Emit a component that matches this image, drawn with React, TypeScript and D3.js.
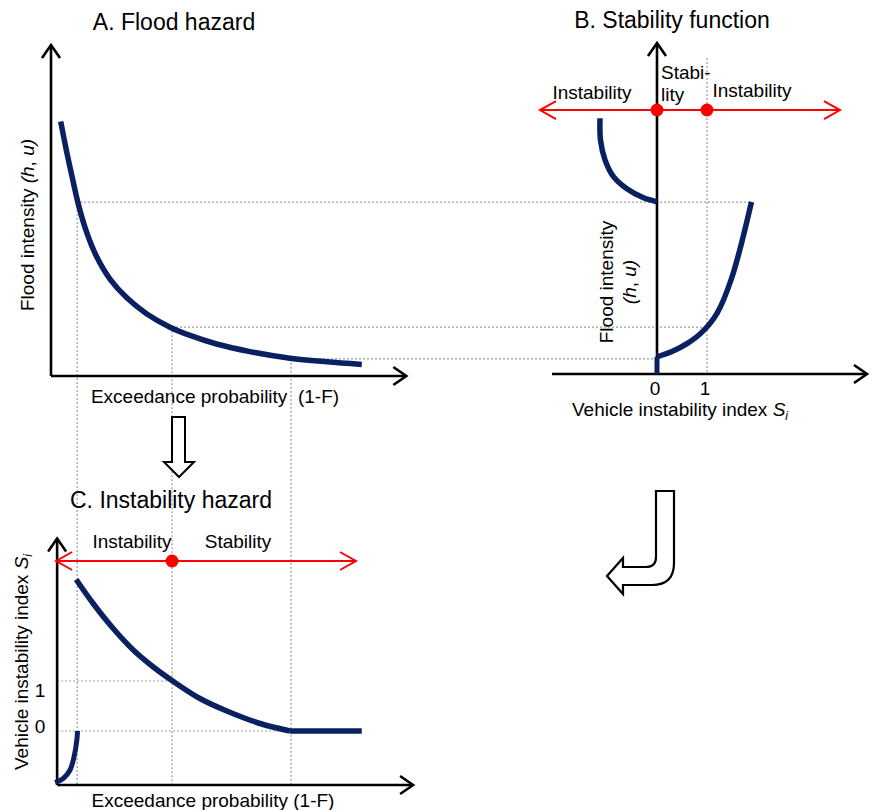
import React from 'react'
import * as d3 from 'd3'

// A. flood hazard curve (exceedance probability -> flood intensity)
const hazardProb = [0.285, 0.46, 0.66, 0.8, 1.05, 1.34, 1.74, 2.23, 2.82, 3.5, 4.09, 4.87, 5.85, 7.03, 8.11, 9.14]
const hazardIntensity = [7.71, 6.8, 5.85, 5.22, 4.35, 3.62, 2.93, 2.37, 1.88, 1.48, 1.23, 0.97, 0.74, 0.54, 0.43, 0.35]

// B. stability function (instability index S vs flood intensity)
const upperS = [-1.14, -1.13, -1.04, -0.87, -0.61, -0.27, 0]
const upperIntensity = [7.81, 7.15, 6.55, 6.04, 5.68, 5.4, 5.28]
const lowerS = [0, 0.3, 0.6, 0.9, 1.2, 1.5, 1.89]
const lowerIntensity = [0.58, 0.74, 0.98, 1.33, 1.9, 3.0, 5.28]

// C. instability hazard
const instabProb = [0.74, 1.24, 1.83, 2.42, 3.01, 3.6, 4.38, 5.17, 6.15, 7.03]
const instabS = [3.03, 2.55, 2.05, 1.62, 1.28, 0.99, 0.65, 0.4, 0.15, 0]
const flatProb = [7.03, 9.14]
const flatS = [0, 0]
const lowProb = [0.12, 0.36, 0.56, 0.68, 0.76, 0.78]
const lowS = [-1.03, -0.95, -0.78, -0.51, -0.18, 0]

// reference levels linking the panels
const refProb = [0.74, 3.56, 7.06]
const refIntensity = [5.27, 1.48, 0.52]
const refS = [1.89, 1, 0]
const sTicks = [0, 1]

const NAVY = '#0b2060'
const RED = '#ff0000'
const GRID = '#9a9a9a'
const FONT = '"Liberation Sans", Arial, sans-serif'

const xP = d3.scaleLinear().domain([0, 10]).range([51, 391])
const yI = d3.scaleLinear().domain([0, 10]).range([376, 46])
const xS = d3.scaleLinear().domain([0, 1]).range([657, 707])
const yS = d3.scaleLinear().domain([0, 1]).range([731, 681])

const zip = (a: number[], b: number[]) => a.map((v, i) => [v, b[i]] as [number, number])

// open chevron arrow head, dir in degrees (0 = pointing right)
const chevron = (x: number, y: number, dir: number, len: number, half: number) => {
  const a = (dir * Math.PI) / 180
  const bx = x - len * Math.cos(a), by = y - len * Math.sin(a)
  const px = -Math.sin(a) * half, py = Math.cos(a) * half
  return `M${bx + px},${by + py}L${x},${y}L${bx - px},${by - py}`
}

const Axis = ({ x1, y1, x2, y2, dir }: any) => (
  <g stroke="black" strokeWidth={2.6} fill="none">
    <line x1={x1} y1={y1} x2={x2} y2={y2} />
    <path d={chevron(x2, y2, dir, 13, 9)} strokeLinejoin="miter" />
  </g>
)

const RedLine = ({ x1, x2, y, dots }: any) => (
  <g>
    <g stroke={RED} strokeWidth={2} fill="none">
      <line x1={x1} y1={y} x2={x2} y2={y} />
      <path d={chevron(x1, y, 180, 16, 9)} />
      <path d={chevron(x2, y, 0, 16, 9)} />
    </g>
    {dots.map((d: number, i: number) => <circle key={i} cx={d} cy={y} r={6.5} fill={RED} />)}
  </g>
)

const Dotted = (p: any) => <line {...p} stroke={GRID} strokeWidth={1.2} strokeDasharray="2,2" />

const App = () => {
  const lineA = d3.line<[number, number]>().x(d => xP(d[0])).y(d => yI(d[1])).curve(d3.curveCatmullRom)
  const lineB = d3.line<[number, number]>().x(d => xS(d[0])).y(d => yI(d[1])).curve(d3.curveCatmullRom)
  const lineC = d3.line<[number, number]>().x(d => xP(d[0])).y(d => yS(d[1])).curve(d3.curveCatmullRom)
  const lineFlat = d3.line<[number, number]>().x(d => xP(d[0])).y(d => yS(d[1]))

  const cAxisX = xP(0.18)
  const cBottom = yS(-1.08)
  const bAxisY = yI(0.06)

  return (
    <svg width={873} height={810} style={{ position: 'absolute', left: 0, top: 0 }} fontFamily={FONT}>
      <rect width={873} height={810} fill="white" />

      {/* dotted guide lines */}
      {refProb.map((p, i) => (
        <Dotted key={'v' + i} x1={xP(p) + (i === 0 ? 1 : 0)} x2={xP(p) + (i === 0 ? 1 : 0)} y1={yI(refIntensity[i]) + 4} y2={cBottom} />
      ))}
      {refIntensity.map((h, i) => (
        <Dotted key={'h' + i} x1={xP(refProb[i]) + 4} x2={xS(refS[i])} y1={yI(h)} y2={yI(h)} />
      ))}
      <Dotted x1={xS(1)} x2={xS(1)} y1={58} y2={bAxisY} />
      <Dotted x1={cAxisX} x2={xP(refProb[1])} y1={yS(1)} y2={yS(1)} />
      <Dotted x1={cAxisX} x2={xP(refProb[2])} y1={yS(0)} y2={yS(0)} />

      {/* A. Flood hazard */}
      <text x={174} y={30} fontSize={23} textAnchor="middle">A. Flood hazard</text>
      <Axis x1={xP(0)} y1={yI(0)} x2={xP(0)} y2={yI(10.03)} dir={-90} />
      <Axis x1={xP(0)} y1={yI(0)} x2={xP(10.45)} y2={yI(0)} dir={0} />
      <path d={lineA(zip(hazardProb, hazardIntensity)) || ''} fill="none" stroke={NAVY} strokeWidth={5.5} />
      <text x={215} y={403} fontSize={19} textAnchor="middle" xmlSpace="preserve">Exceedance probability  (1-F)</text>
      <text transform={`translate(34,225) rotate(-90)`} fontSize={19} textAnchor="middle">
        Flood intensity <tspan fontStyle="italic">(h</tspan>, <tspan fontStyle="italic">u)</tspan>
      </text>

      {/* B. Stability function */}
      <text x={672} y={28} fontSize={23} textAnchor="middle">B. Stability function</text>
      <Axis x1={xS(-2.1)} y1={bAxisY} x2={xS(4.2)} y2={bAxisY} dir={0} />
      <Axis x1={xS(0)} y1={bAxisY} x2={xS(0)} y2={yI(10.09)} dir={-90} />
      <line x1={xS(0)} x2={xS(0)} y1={bAxisY} y2={yI(lowerIntensity[0])} stroke={NAVY} strokeWidth={5} />
      <path d={lineB(zip(upperS, upperIntensity)) || ''} fill="none" stroke={NAVY} strokeWidth={5.5} />
      <path d={lineB(zip(lowerS, lowerIntensity)) || ''} fill="none" stroke={NAVY} strokeWidth={5.5} />
      <RedLine x1={xS(-2.34)} x2={xS(3.66)} y={yI(8.06)} dots={sTicks.map(s => xS(s))} />
      <text x={592} y={99} fontSize={19} textAnchor="middle">Instability</text>
      <text x={752} y={97} fontSize={19} textAnchor="middle">Instability</text>
      <text x={661} y={79} fontSize={19}>Stabi-</text>
      <text x={661} y={101} fontSize={19}>lity</text>
      {sTicks.map(t => (
        <text key={t} x={xS(t) - 2} y={395} fontSize={19} textAnchor="middle">{t}</text>
      ))}
      <text x={680} y={416} fontSize={19} textAnchor="middle">
        Vehicle instability index <tspan fontStyle="italic">S</tspan><tspan fontStyle="italic" fontSize={12} dy={4}>i</tspan>
      </text>
      <text transform={`translate(613,282) rotate(-90)`} fontSize={19} textAnchor="middle">Flood intensity</text>
      <text transform={`translate(636,282) rotate(-90)`} fontSize={19} textAnchor="middle">
        <tspan fontStyle="italic">(h</tspan>, <tspan fontStyle="italic">u)</tspan>
      </text>

      {/* hollow arrows between panels */}
      <path d="M172,417 L185,417 L185,462 L194,462 L179,477 L164,462 L172,462 Z" fill="white" stroke="black" strokeWidth={2} strokeLinejoin="miter" />
      <path d="M674,491 L674,563 Q674,585 652,585 L623,585 L623,594 L607,576 L623,558 L623,567 L646,567 Q656,567 656,557 L656,491 Z"
        fill="white" stroke="black" strokeWidth={2.2} />

      {/* C. Instability hazard */}
      <text x={171} y={508} fontSize={23} textAnchor="middle">C. Instability hazard</text>
      <Axis x1={cAxisX} y1={cBottom} x2={cAxisX} y2={yS(3.85)} dir={-90} />
      <Axis x1={cAxisX} y1={cBottom} x2={xP(10.65)} y2={cBottom} dir={0} />
      <path d={lineC(zip(instabProb, instabS)) || ''} fill="none" stroke={NAVY} strokeWidth={5.5} />
      <path d={lineFlat(zip(flatProb, flatS)) || ''} fill="none" stroke={NAVY} strokeWidth={5.5} />
      <path d={lineC(zip(lowProb, lowS)) || ''} fill="none" stroke={NAVY} strokeWidth={5} />
      <RedLine x1={cAxisX - 1} x2={xP(8.97)} y={yS(3.4)} dots={[xP(refProb[1])]} />
      <text x={132} y={548} fontSize={19} textAnchor="middle">Instability</text>
      <text x={238} y={548} fontSize={19} textAnchor="middle">Stability</text>
      <text x={40} y={697} fontSize={19} textAnchor="middle">1</text>
      <text x={40} y={733} fontSize={19} textAnchor="middle">0</text>
      <text transform={`translate(28,662) rotate(-90)`} fontSize={19} textAnchor="middle">
        Vehicle instability index <tspan fontStyle="italic">S</tspan><tspan fontStyle="italic" fontSize={12} dy={4}>i</tspan>
      </text>
      <text x={213} y={807} fontSize={19} textAnchor="middle">Exceedance probability (1-F)</text>
    </svg>
  )
}

export default App
